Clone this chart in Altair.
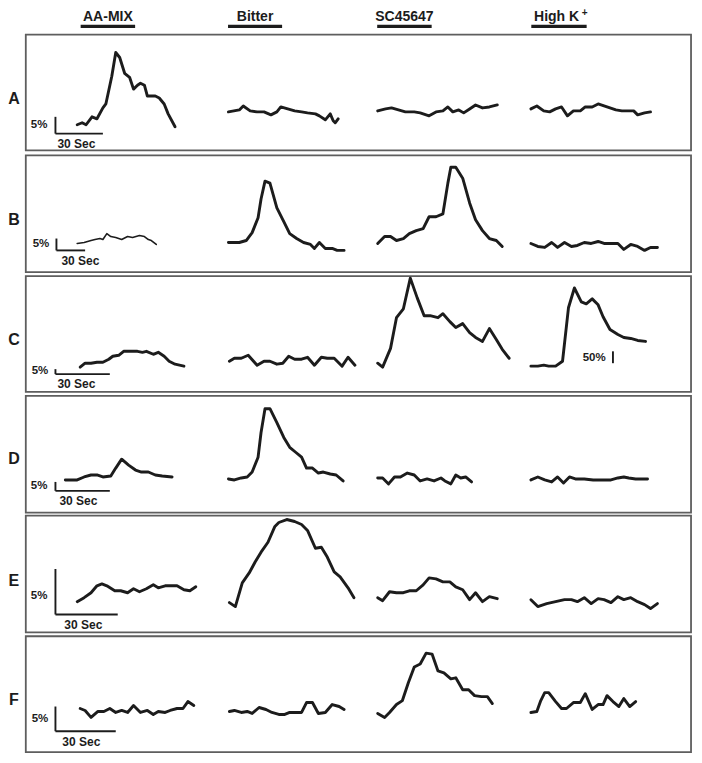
import altair as alt
import pandas as pd

# ---------------- data ----------------
ROWS = ["A", "B", "C", "D", "E", "F"]
STIMULI = ["AA-MIX", "Bitter", "SC45647", "High K"]

# traces: time offset within column (figure units) and response height above row floor
A1_T = [18,23,27,33,38,44,47,53,57,61,66,71,75,79,82,86,89,97,101,106,110,117]
A1_V = [26,28,26,34,32,43,47,75,99,94,78,74,62,66,68,66,55,55,53,47,37,24]
A2_T = [3,14,18,25,32,39,46,52,56,63,70,77,83,91,95,101,106,109,111,114]
A2_V = [39,41,45,40,39,39,36,39,44,42,40,39,38,37,35,31,37,30,28,32]
A3_T = [4,12,18,25,32,41,47,56,63,70,75,80,86,91,97,103,110,117,125]
A3_V = [40,42,43,41,39,39,38,35,39,40,44,39,41,38,42,46,43,44,46]
A4_T = [2,8,15,21,27,33,39,45,52,57,64,70,76,82,88,94,101,106,110,117,123]
A4_V = [42,45,40,39,42,44,35,40,40,44,44,47,45,43,41,40,40,40,36,38,39]

B1_T = [18,25,32,36,41,44,48,52,57,63,69,74,81,86,90,93,98]
B1_V = [29,30,32,33,34,33,39,36,35,33,36,35,37,36,33,32,28]
B2_T = [3,14,21,27,33,36,40,45,52,59,65,72,79,86,90,95,101,108,113,120]
B2_V = [30,30,32,40,55,74,92,90,65,51,39,34,30,28,24,30,24,24,22,22]
B3_T = [4,11,17,23,30,36,43,50,56,63,70,75,78,83,90,97,103,110,117,124,130]
B3_V = [29,36,36,32,34,39,42,44,56,56,59,90,106,106,95,70,53,42,34,32,26]
B4_T = [2,9,16,23,29,36,43,49,56,63,70,76,83,90,96,103,110,117,123,130]
B4_V = [29,26,25,30,25,30,26,27,30,29,31,29,29,29,23,28,26,22,25,25]

C1_T = [21,26,32,38,44,50,54,60,65,72,79,84,88,95,100,106,111,117,126]
C1_V = [25,29,29,30,30,33,36,37,41,41,41,40,41,38,40,36,31,28,26]
C2_T = [4,9,16,23,32,39,45,52,58,64,70,77,83,90,97,103,110,118,124,131]
C2_V = [31,34,34,37,27,31,31,28,29,36,33,33,35,27,35,34,34,26,35,27]
C3_T = [4,9,17,23,30,37,44,51,57,65,70,77,83,90,97,103,110,117,124,130,137]
C3_V = [29,25,44,75,84,115,95,77,77,75,79,71,65,69,60,55,51,64,53,43,34]
C4_T = [2,9,15,20,27,34,40,46,53,58,64,70,75,82,90,96,103,110,118]
C4_V = [26,26,27,26,26,31,85,105,91,89,94,88,76,63,58,55,54,52,51]

D1_T = [6,18,25,32,38,44,52,57,63,70,77,83,90,97,104,114]
D1_V = [33,33,36,38,38,36,37,45,54,48,43,41,41,38,37,36]
D2_T = [3,9,16,22,27,33,36,40,45,52,59,65,71,77,82,88,94,99,106,112,119]
D2_V = [34,33,35,36,41,56,81,105,105,91,76,66,61,56,45,45,40,41,39,38,32]
D3_T = [4,9,15,21,27,34,41,47,54,61,68,72,78,83,88,93,99]
D3_V = [35,35,29,36,36,40,38,32,34,32,35,32,29,38,35,36,31]
D4_T = [2,9,16,23,29,35,41,47,56,65,74,83,90,96,101,108,114,120]
D4_V = [33,36,33,31,36,30,36,34,34,33,33,33,35,36,35,34,34,34]

E1_T = [18,25,32,38,43,48,56,62,69,75,81,88,95,100,107,112,119,126,132,138]
E1_V = [31,35,40,47,49,47,42,42,40,44,41,44,48,45,47,47,47,43,42,46]
E2_T = [4,10,17,24,30,36,43,50,54,62,70,77,83,91,97,103,110,116,124,130]
E2_V = [30,26,50,60,71,81,91,107,111,114,112,109,103,85,86,76,61,56,45,35]
E3_T = [4,9,16,23,30,36,43,50,56,63,70,77,83,90,97,103,110,117,125]
E3_V = [35,32,41,40,40,42,42,48,55,54,51,51,46,43,33,40,31,36,34]
E4_T = [2,9,18,27,36,43,49,56,63,70,76,83,90,96,103,110,117,123,130]
E4_V = [33,26,29,31,33,33,31,35,29,34,33,30,36,33,35,31,28,24,29]

F1_T = [21,26,32,39,45,51,57,63,69,75,82,89,95,100,107,112,119,125,130,136]
F1_V = [44,42,35,41,41,44,40,42,40,47,40,42,38,41,40,42,44,44,51,47]
F2_T = [4,9,16,22,27,34,41,47,54,60,65,72,77,82,88,94,101,108,115,120]
F2_V = [41,42,40,41,39,45,43,40,38,38,40,40,40,50,50,39,40,48,46,43]
F3_T = [4,11,16,23,29,35,41,47,53,59,65,71,78,83,90,96,102,109,115,120]
F3_V = [39,35,40,48,52,70,86,89,100,99,82,80,74,75,63,63,57,56,56,49]
F4_T = [2,8,12,16,20,27,33,38,45,52,57,64,70,75,79,85,91,96,102,108]
F4_V = [40,41,52,60,60,51,44,44,50,50,59,43,48,48,57,51,46,54,46,51]

# scale bars per row: length of the 5% bar and of the 30 s bar
BAR_5PCT = [17, 12, 5, 9, 46, 25]
BAR_30S = [48, 29, 55, 55, 63, 61]
SCALE_LABEL = "5%"
TIME_LABEL = "30 Sec"

# ---------------- layout ----------------
ROW_TOP = [35, 157, 279, 400, 521, 643]
ROW_BOTTOM = [152, 275, 396, 518, 639, 760]
BOX_LEFT, BOX_RIGHT = 26, 699
COL_X0 = [60, 228, 378, 535]
STIM_START = [81.5, 230.6, 381.5, 537.4]
STIM_END = [136.6, 285.3, 436.6, 593.4]
BAR_X = [56, 57, 56, 56, 56, 56]
BAR_RAISE = [17, 22, 18, 22, 18, 21]
PCT_LABEL_X = [31, 33, 32, 31, 31, 32]
TIME_LABEL_X = [58, 62, 58, 60, 65, 63]
ROW_LABEL_Y = [100, 222, 344, 464, 587, 707]

TRACES = {
    ("A", 0): (A1_T, A1_V), ("A", 1): (A2_T, A2_V), ("A", 2): (A3_T, A3_V), ("A", 3): (A4_T, A4_V),
    ("B", 0): (B1_T, B1_V), ("B", 1): (B2_T, B2_V), ("B", 2): (B3_T, B3_V), ("B", 3): (B4_T, B4_V),
    ("C", 0): (C1_T, C1_V), ("C", 1): (C2_T, C2_V), ("C", 2): (C3_T, C3_V), ("C", 3): (C4_T, C4_V),
    ("D", 0): (D1_T, D1_V), ("D", 1): (D2_T, D2_V), ("D", 2): (D3_T, D3_V), ("D", 3): (D4_T, D4_V),
    ("E", 0): (E1_T, E1_V), ("E", 1): (E2_T, E2_V), ("E", 2): (E3_T, E3_V), ("E", 3): (E4_T, E4_V),
    ("F", 0): (F1_T, F1_V), ("F", 1): (F2_T, F2_V), ("F", 2): (F3_T, F3_V), ("F", 3): (F4_T, F4_V),
}

rows = []
for (r, c), (ts, vs) in TRACES.items():
    ri = ROWS.index(r)
    for i, (t, v) in enumerate(zip(ts, vs)):
        rows.append({
            "id": f"{r}{c}", "i": i,
            "x": COL_X0[c] + t, "y": ROW_BOTTOM[ri] - v,
            "sw": 1.6 if (r == "B" and c == 0) else 2.9,
        })
trace_df = pd.DataFrame(rows)

box_df = pd.DataFrame({
    "x": [BOX_LEFT] * 6, "x2": [BOX_RIGHT] * 6, "y": ROW_TOP, "y2": ROW_BOTTOM,
})

bars = []
for ri in range(6):
    yb = ROW_BOTTOM[ri] - BAR_RAISE[ri]
    bars.append({"x": BAR_X[ri], "x2": BAR_X[ri], "y": yb - BAR_5PCT[ri], "y2": yb})
    bars.append({"x": BAR_X[ri], "x2": BAR_X[ri] + BAR_30S[ri], "y": yb, "y2": yb})
# 50% bar in row C, High K+
bars.append({"x": 620, "x2": 620, "y": 355, "y2": 367})
bar_df = pd.DataFrame(bars)

stim_df = pd.DataFrame({"x": STIM_START, "x2": STIM_END, "y": [26.5] * 4, "y2": [26.5] * 4})

header_df = pd.DataFrame({
    "x": [(a + b) / 2 for a, b in zip(STIM_START, STIM_END)],
    "y": [17.5] * 4, "t": STIMULI,
})
header_df.loc[3, "x"] = 563
sup_df = pd.DataFrame({"x": [591.5], "y": [13], "t": ["+"]})

rowlab_df = pd.DataFrame({"x": [14] * 6, "y": ROW_LABEL_Y, "t": ROWS})

pct_df = pd.DataFrame({
    "x": PCT_LABEL_X,
    "y": [ROW_BOTTOM[i] - BAR_RAISE[i] - max(BAR_5PCT[i], 8) / 2 + (1 if BAR_5PCT[i] < 8 else 0) for i in range(6)],
    "t": [SCALE_LABEL] * 6,
})
pct_df.loc[4, "y"] = 602
time_df = pd.DataFrame({
    "x": TIME_LABEL_X,
    "y": [ROW_BOTTOM[i] - BAR_RAISE[i] + 10.5 for i in range(6)],
    "t": [TIME_LABEL] * 6,
})
fifty_df = pd.DataFrame({"x": [601], "y": [362], "t": ["50%"]})

# ---------------- chart ----------------
W, H = 686, 747
XS = alt.Scale(domain=[8, 702], nice=False, zero=False)
YS = alt.Scale(domain=[8, 763], nice=False, zero=False, reverse=True)
X = alt.X("x:Q", scale=XS, axis=None)
Y = alt.Y("y:Q", scale=YS, axis=None)
FONT = "Liberation Sans"
INK = "#1c1c1c"

boxes = alt.Chart(box_df).mark_rect(filled=False, color="#5e5e5e", strokeWidth=1.8).encode(
    x=X, x2="x2:Q", y=Y, y2="y2:Q")

lines = alt.Chart(trace_df).mark_line(color=INK, strokeJoin="round", strokeCap="round").encode(
    x=X, y=Y, detail="id:N", order="i:Q",
    strokeWidth=alt.StrokeWidth("sw:Q", scale=None))

scalebars = alt.Chart(bar_df).mark_rule(color=INK, strokeWidth=1.9).encode(
    x=X, x2="x2:Q", y=Y, y2="y2:Q")

stimbars = alt.Chart(stim_df).mark_rule(color=INK, strokeWidth=3.2).encode(
    x=X, x2="x2:Q", y=Y, y2="y2:Q")

headers = alt.Chart(header_df).mark_text(font=FONT, fontWeight="bold", fontSize=14,
                                          align="center", baseline="middle", color=INK).encode(
    x=X, y=Y, text="t:N")
sup = alt.Chart(sup_df).mark_text(font=FONT, fontWeight="bold", fontSize=10,
                                  align="center", baseline="middle", color=INK).encode(
    x=X, y=Y, text="t:N")
rowlabs = alt.Chart(rowlab_df).mark_text(font=FONT, fontWeight="bold", fontSize=16, align="center",
                                         baseline="middle", color=INK).encode(
    x=X, y=Y, text="t:N")
pcts = alt.Chart(pct_df).mark_text(font=FONT, fontWeight="bold", fontSize=11.5, align="left",
                                   baseline="middle", color=INK).encode(
    x=X, y=Y, text="t:N")
times = alt.Chart(time_df).mark_text(font=FONT, fontWeight="bold", fontSize=12, align="left",
                                     baseline="middle", color=INK).encode(
    x=X, y=Y, text="t:N")
fifty = alt.Chart(fifty_df).mark_text(font=FONT, fontWeight="bold", fontSize=11.5, align="center",
                                      baseline="middle", color=INK).encode(
    x=X, y=Y, text="t:N")

chart = alt.layer(boxes, lines, scalebars, stimbars, headers, sup, rowlabs, pcts, times, fifty).properties(
    width=W, height=H, padding=0, autosize=alt.AutoSizeParams(type="none"),
    background="white",
).configure_view(strokeWidth=0)

chart.save("out.html", embed_options={"renderer": "svg", "actions": False})
